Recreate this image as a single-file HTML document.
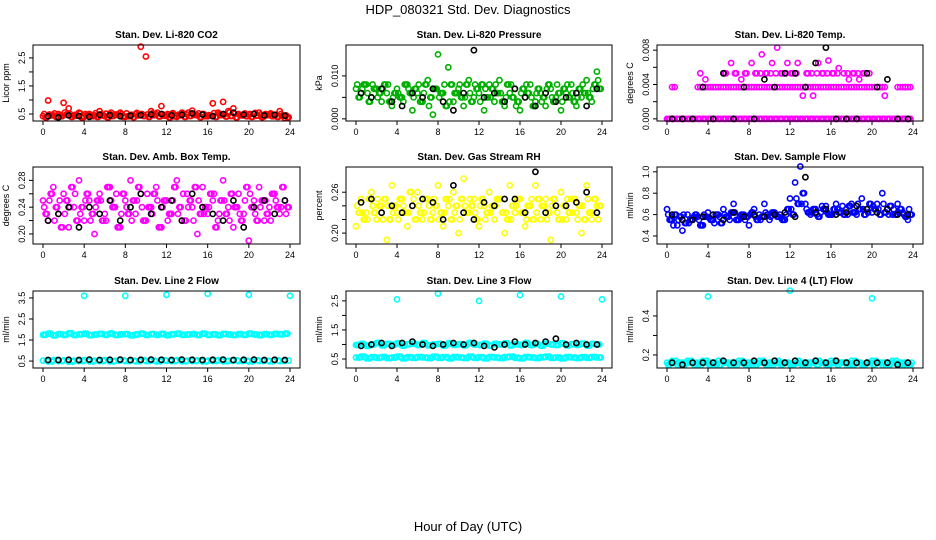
<!DOCTYPE html>
<html><head><meta charset="utf-8">
<style>
html,body{margin:0;padding:0;background:#fff;}
svg{display:block;font-family:"Liberation Sans",sans-serif;}
</style></head>
<body>
<svg id="chart" width="936" height="540" viewBox="0 0 936 540">
<text x="468" y="14" text-anchor="middle" font-size="13">HDP_080321  Std. Dev. Diagnostics</text>
<text x="468" y="531" text-anchor="middle" font-size="13">Hour of Day (UTC)</text>
</svg>
<script>
const hours=[0,0.5,1,1.5,2,2.5,3,3.5,4,4.5,5,5.5,6,6.5,7,7.5,8,8.5,9,9.5,10,10.5,11,11.5,12,12.5,13,13.5,14,14.5,15,15.5,16,16.5,17,17.5,18,18.5,19,19.5,20,20.5,21,21.5,22,22.5,23,23.5];
const hoursOff=[0.25,0.75,1.25,1.75,2.25,2.75,3.25,3.75,4.25,4.75,5.25,5.75,6.25,6.75,7.25,7.75,8.25,8.75,9.25,9.75,10.25,10.75,11.25,11.75,12.25,12.75,13.25,13.75,14.25,14.75,15.25,15.75,16.25,16.75,17.25,17.75,18.25,18.75,19.25,19.75,20.25,20.75,21.25,21.75,22.25,22.75,23.25,23.75];
const hoursA=[0.12,0.62,1.12,1.62,2.12,2.62,3.12,3.62,4.12,4.62,5.12,5.62,6.12,6.62,7.12,7.62,8.12,8.62,9.12,9.62,10.12,10.62,11.12,11.62,12.12,12.62,13.12,13.62,14.12,14.62,15.12,15.62,16.12,16.62,17.12,17.62,18.12,18.62,19.12,19.62,20.12,20.62,21.12,21.62,22.12,22.62,23.12,23.62];
const hoursB=[0.37,0.87,1.37,1.87,2.37,2.87,3.37,3.87,4.37,4.87,5.37,5.87,6.37,6.87,7.37,7.87,8.37,8.87,9.37,9.87,10.37,10.87,11.37,11.87,12.37,12.87,13.37,13.87,14.37,14.87,15.37,15.87,16.37,16.87,17.37,17.87,18.37,18.87,19.37,19.87,20.37,20.87,21.37,21.87,22.37,22.87,23.37,23.87];
const hoursBlack=[0.5,1.5,2.5,3.5,4.5,5.5,6.5,7.5,8.5,9.5,10.5,11.5,12.5,13.5,14.5,15.5,16.5,17.5,18.5,19.5,20.5,21.5,22.5,23.5];
const hoursOut=[4,8,12,16,20,24];
const xTicks=[0,4,8,12,16,20,24];

const co2A=[0.42,0.98,0.45,0.5,0.9,0.7,0.45,0.55,0.4,0.5,0.45,0.6,0.42,0.5,0.48,0.55,0.4,0.45,0.5,2.9,2.55,0.6,0.5,0.78,0.45,0.5,0.4,0.55,0.48,0.62,0.45,0.5,0.42,0.88,0.55,0.93,0.6,0.7,0.5,0.45,0.48,0.5,0.55,0.42,0.5,0.45,0.6,0.35];
const co2B=[0.38,0.45,0.4,0.42,0.48,0.4,0.44,0.38,0.46,0.42,0.4,0.45,0.38,0.43,0.47,0.4,0.42,0.39,0.45,0.43,0.4,0.46,0.41,0.44,0.38,0.42,0.45,0.4,0.43,0.47,0.39,0.42,0.44,0.4,0.46,0.41,0.43,0.38,0.45,0.42,0.4,0.44,0.39,0.46,0.42,0.4,0.43,0.38];
const co2C=[0.5,0.48,0.52,0.45,0.55,0.5,0.47,0.52,0.5,0.46,0.53,0.49,0.51,0.55,0.48,0.5,0.52,0.47,0.54,0.5,0.48,0.52,0.55,0.49,0.5,0.53,0.47,0.51,0.55,0.48,0.52,0.5,0.46,0.53,0.5,0.48,0.55,0.51,0.47,0.52,0.5,0.54,0.48,0.5,0.52,0.47,0.5,0.45];
const co2K=[0.42,0.38,0.45,0.43,0.4,0.47,0.45,0.42,0.44,0.46,0.48,0.5,0.45,0.47,0.52,0.48,0.42,0.5,0.55,0.48,0.5,0.45,0.47,0.44];

const presA=[0.007,0.006,0.008,0.005,0.007,0.004,0.006,0.003,0.007,0.005,0.008,0.002,0.006,0.004,0.009,0.001,0.015,0.006,0.012,0.004,0.007,0.003,0.009,0.005,0.006,0.002,0.008,0.004,0.009,0.003,0.006,0.007,0.002,0.005,0.008,0.004,0.006,0.003,0.007,0.005,0.002,0.006,0.008,0.003,0.005,0.009,0.004,0.011];
const presB=[0.005,0.008,0.004,0.007,0.006,0.008,0.004,0.006,0.005,0.008,0.006,0.007,0.004,0.008,0.005,0.007,0.006,0.003,0.008,0.006,0.005,0.008,0.004,0.007,0.008,0.005,0.007,0.006,0.004,0.008,0.005,0.004,0.007,0.006,0.003,0.007,0.005,0.008,0.004,0.006,0.007,0.005,0.004,0.007,0.006,0.005,0.008,0.007];
const presC=[0.008,0.007,0.006,0.008,0.005,0.007,0.008,0.005,0.006,0.004,0.007,0.005,0.008,0.006,0.003,0.007,0.005,0.008,0.004,0.006,0.008,0.005,0.006,0.008,0.004,0.007,0.005,0.008,0.006,0.005,0.008,0.003,0.006,0.008,0.005,0.006,0.004,0.007,0.005,0.008,0.004,0.008,0.006,0.005,0.008,0.006,0.007,0.009];
const presK=[0.006,0.005,0.007,0.004,0.003,0.006,0.005,0.007,0.004,0.002,0.006,0.016,0.005,0.006,0.004,0.007,0.005,0.003,0.006,0.004,0.005,0.006,0.003,0.007];

const tempA=[0,0,0,0,0,0,0,0,0,0,0,0,0,0,0,0,0,0,0,0,0,0,0,0,0,0,0,0,0,0,0,0,0,0,0,0,0,0,0,0,0,0,0,0,0,0,0,0];
const tempB=[null,0.0037,null,null,null,null,0.0037,0.0037,0.0037,0.0037,0.0037,0.0037,0.0037,0.0037,0.0037,0.0037,0.0037,0.0037,0.0037,0.0037,0.0037,0.0037,0.0037,0.0037,0.0037,0.0037,0.0037,0.0037,0.0037,0.0037,0.0037,0.0037,0.0037,0.0037,0.0037,0.0037,0.0037,0.0037,0.0037,0.0037,0.0037,0.0037,0.0037,null,null,0.0037,0.0037,0.0037];
const tempC=[null,null,null,null,null,null,0.0053,0.0046,null,null,null,0.0053,0.0065,0.0053,0.0046,0.0053,0.0065,0.0053,0.0075,0.0053,0.0065,0.0083,0.0053,0.0065,0.0053,0.0065,0.0027,0.0053,0.0027,0.0065,0.0053,0.0068,0.0053,0.0059,0.0053,0.0046,0.0053,0.0046,0.0053,0.0053,null,0.0037,0.0027,null,null,null,0.0037,null];
const tempD=[null,null,null,null,null,null,null,null,null,null,null,0.0053,null,0.0053,null,0.0053,null,0.0053,0.0053,0.0053,0.0053,0.0053,0.0053,0.0053,0.0053,0.0053,null,0.0053,0.0053,0.0053,0.0053,0.0053,0.0053,0.0053,null,0.0053,0.0053,0.0053,0.0053,null,null,null,null,null,null,null,null,null];
const tempK=[0,0,0,0.0037,0,0.0053,0,0.0037,0,0.0046,0.0037,0.0053,0.0053,0.0037,0.0065,0.0083,0,0,0,0.0053,0.0037,0.0046,0,0];

const ambA=[0.25,0.22,0.27,0.23,0.26,0.21,0.24,0.28,0.22,0.25,0.2,0.26,0.23,0.27,0.24,0.21,0.25,0.28,0.23,0.26,0.22,0.24,0.27,0.21,0.25,0.23,0.28,0.22,0.26,0.24,0.2,0.27,0.23,0.25,0.22,0.28,0.24,0.21,0.26,0.23,0.19,0.25,0.27,0.22,0.24,0.26,0.23,0.25];
const ambB=[0.23,0.26,0.24,0.21,0.25,0.27,0.22,0.24,0.26,0.23,0.25,0.22,0.27,0.24,0.21,0.26,0.23,0.25,0.27,0.22,0.24,0.26,0.21,0.25,0.23,0.27,0.24,0.22,0.25,0.27,0.23,0.24,0.26,0.21,0.25,0.23,0.26,0.24,0.22,0.27,0.24,0.22,0.25,0.23,0.26,0.24,0.27,0.24];
const ambC=[0.24,0.25,0.22,0.25,0.23,0.24,0.26,0.23,0.25,0.22,0.24,0.25,0.22,0.25,0.26,0.23,0.24,0.22,0.25,0.24,0.26,0.23,0.25,0.24,0.22,0.25,0.23,0.26,0.24,0.22,0.25,0.23,0.24,0.26,0.23,0.25,0.22,0.24,0.23,0.25,0.26,0.23,0.24,0.25,0.22,0.25,0.24,0.23];
const ambK=[0.22,0.23,0.24,0.21,0.24,0.23,0.25,0.22,0.24,0.26,0.23,0.24,0.25,0.22,0.26,0.24,0.23,0.22,0.25,0.21,0.24,0.25,0.23,0.25];

const rhA=[0.21,0.25,0.23,0.26,0.22,0.24,0.19,0.27,0.23,0.25,0.21,0.24,0.26,0.22,0.25,0.23,0.27,0.21,0.24,0.26,0.2,0.28,0.23,0.25,0.21,0.24,0.26,0.22,0.25,0.2,0.27,0.23,0.25,0.21,0.24,0.27,0.22,0.25,0.19,0.24,0.26,0.22,0.25,0.23,0.2,0.27,0.22,0.24];
const rhB=[0.23,0.22,0.25,0.23,0.24,0.25,0.22,0.24,0.25,0.23,0.26,0.22,0.23,0.25,0.22,0.24,0.23,0.25,0.22,0.24,0.25,0.23,0.24,0.22,0.25,0.23,0.24,0.25,0.23,0.22,0.24,0.25,0.23,0.24,0.22,0.25,0.24,0.23,0.25,0.22,0.24,0.23,0.25,0.24,0.22,0.23,0.25,0.24];
const rhC=[0.24,0.23,0.22,0.24,0.25,0.22,0.24,0.23,0.22,0.24,0.23,0.25,0.24,0.23,0.24,0.25,0.22,0.23,0.25,0.23,0.22,0.24,0.25,0.23,0.24,0.22,0.23,0.24,0.25,0.23,0.22,0.24,0.23,0.22,0.25,0.23,0.24,0.22,0.24,0.23,0.22,0.25,0.23,0.22,0.24,0.25,0.23,0.22];
const rhK=[0.245,0.25,0.23,0.24,0.23,0.24,0.25,0.245,0.22,0.27,0.23,0.22,0.245,0.24,0.25,0.25,0.23,0.29,0.23,0.24,0.24,0.245,0.26,0.23];

const flowA=[0.65,0.55,0.5,0.45,0.6,0.55,0.58,0.5,0.62,0.55,0.6,0.65,0.58,0.7,0.55,0.6,0.5,0.65,0.6,0.7,0.55,0.62,0.6,0.55,0.75,0.9,1.05,0.7,0.6,0.65,0.62,0.68,0.6,0.7,0.62,0.65,0.7,0.6,0.75,0.65,0.62,0.7,0.8,0.65,0.6,0.7,0.62,0.55];
const flowB=[0.55,0.6,0.58,0.52,0.55,0.6,0.5,0.58,0.55,0.6,0.52,0.58,0.62,0.55,0.6,0.58,0.62,0.55,0.58,0.6,0.62,0.58,0.55,0.65,0.6,0.7,0.8,0.62,0.65,0.58,0.65,0.6,0.65,0.62,0.6,0.68,0.62,0.65,0.6,0.7,0.65,0.6,0.62,0.68,0.6,0.65,0.58,0.6];
const flowC=[0.6,0.5,0.55,0.6,0.52,0.58,0.55,0.6,0.57,0.52,0.58,0.6,0.55,0.62,0.58,0.55,0.6,0.58,0.55,0.62,0.58,0.6,0.57,0.6,0.65,0.75,0.7,0.65,0.62,0.6,0.68,0.62,0.6,0.65,0.68,0.6,0.62,0.7,0.65,0.62,0.68,0.65,0.7,0.6,0.65,0.62,0.6,0.65];
const flowK=[0.6,0.55,0.55,0.58,0.6,0.55,0.62,0.58,0.6,0.58,0.6,0.62,0.58,0.95,0.62,0.65,0.6,0.62,0.68,0.65,0.62,0.65,0.6,0.6];

const l2A=[1.75,1.8,1.72,1.78,1.75,1.82,1.74,1.77,1.8,1.73,1.76,1.79,1.75,1.81,1.74,1.77,1.78,1.72,1.76,1.8,1.74,1.78,1.75,1.79,1.73,1.77,1.8,1.75,1.76,1.78,1.74,1.8,1.75,1.77,1.73,1.79,1.76,1.74,1.78,1.75,1.8,1.76,1.73,1.78,1.75,1.79,1.77,1.8];
const l2B=[0.52,0.48,0.55,0.5,0.53,0.47,0.52,0.5,0.54,0.49,0.52,0.5,0.55,0.48,0.51,0.53,0.5,0.52,0.49,0.54,0.5,0.52,0.48,0.53,0.51,0.5,0.54,0.49,0.52,0.5,0.53,0.48,0.52,0.5,0.54,0.49,0.51,0.53,0.5,0.52,0.48,0.54,0.5,0.52,0.49,0.53,0.5,0.52];
const l2Out=[3.6,3.6,3.65,3.7,3.65,3.6];
const l2K=[0.55,0.55,0.56,0.55,0.57,0.55,0.56,0.57,0.55,0.56,0.57,0.56,0.55,0.57,0.56,0.55,0.56,0.57,0.55,0.56,0.57,0.55,0.56,0.55];

const l3A=[0.98,1.02,0.95,1.0,1.05,0.97,1.02,0.99,1.04,0.96,1.01,1.03,0.98,1.05,0.97,1.0,1.02,0.96,1.04,0.99,1.01,0.97,1.05,1.0,0.98,1.03,0.96,1.02,1.0,1.04,0.97,1.01,0.99,1.05,0.98,1.02,0.96,1.03,1.0,0.98,1.04,0.97,1.01,0.99,1.03,0.96,1.02,1.0];
const l3B=[0.55,0.58,0.52,0.56,0.54,0.57,0.53,0.55,0.58,0.52,0.56,0.54,0.57,0.55,0.53,0.58,0.54,0.56,0.52,0.57,0.55,0.53,0.58,0.54,0.56,0.52,0.57,0.55,0.53,0.56,0.58,0.54,0.52,0.57,0.55,0.53,0.56,0.58,0.54,0.55,0.52,0.57,0.55,0.53,0.56,0.54,0.57,0.55];
const l3Out=[2.55,2.75,2.5,2.7,2.65,2.55];
const l3K=[0.95,1.0,1.05,0.95,1.05,1.1,1.0,0.95,1.0,1.05,1.0,1.05,0.95,0.9,1.0,1.1,1.0,1.05,1.1,1.2,1.0,1.05,1.0,1.0];

const l4A=[0.16,0.17,0.15,0.16,0.17,0.16,0.15,0.17,0.16,0.15,0.17,0.16,0.16,0.15,0.17,0.16,0.15,0.16,0.17,0.16,0.15,0.17,0.16,0.16,0.15,0.17,0.16,0.15,0.16,0.17,0.16,0.15,0.17,0.16,0.16,0.15,0.17,0.16,0.15,0.16,0.17,0.16,0.15,0.16,0.17,0.16,0.15,0.16];
const l4B=[0.15,0.16,0.16,0.15,0.16,0.15,0.16,0.16,0.15,0.16,0.15,0.16,0.15,0.16,0.16,0.15,0.16,0.15,0.16,0.15,0.16,0.16,0.15,0.16,0.15,0.16,0.15,0.16,0.16,0.15,0.16,0.15,0.16,0.15,0.16,0.16,0.15,0.16,0.15,0.16,0.15,0.16,0.16,0.15,0.16,0.15,0.16,0.15];
const l4Out=[0.5,null,0.53,null,0.49,null];
const l4K=[0.16,0.15,0.16,0.16,0.16,0.17,0.16,0.16,0.17,0.16,0.17,0.16,0.17,0.16,0.17,0.16,0.17,0.16,0.16,0.16,0.16,0.16,0.15,0.16];

const NS="http://www.w3.org/2000/svg";
const svg=document.getElementById('chart');
function mk(tag,attrs,parent){const e=document.createElementNS(NS,tag);for(const k in attrs)e.setAttribute(k,attrs[k]);(parent||svg).appendChild(e);return e;}

const cols=[{l:33,r:300},{l:346,r:612},{l:657,r:923}];
const rows=[{t:45,b:121},{t:167,b:244},{t:291,b:368}];

const panels=[
 {name:'co2',title:'Stan. Dev. Li-820 CO2',ylab:'Licor ppm',ymin:0.25,ymax:2.96,ticks:[0.5,1,1.5,2,2.5],labels:['0.5','','1.5','','2.5'],
  series:[[hours,co2A,'#ff0000'],[hoursOff,co2B,'#ff0000'],[hoursA,co2C,'#ff0000'],[hoursB,co2B,'#ff0000'],[hoursBlack,co2K,'#000']]},
 {name:'pressure',title:'Stan. Dev. Li-820 Pressure',ylab:'kPa',ymin:-0.0005,ymax:0.0172,ticks:[0,0.005,0.01],labels:['0.000','','0.010'],
  series:[[hours,presA,'#00b000'],[hoursOff,presB,'#00b000'],[hoursA,presC,'#00b000'],[hoursB,presB,'#00b000'],[hoursBlack,presK,'#000']]},
 {name:'temp',title:'Stan. Dev. Li-820 Temp.',ylab:'degrees C',ymin:-0.00025,ymax:0.0086,ticks:[0,0.002,0.004,0.006,0.008],labels:['0.000','','0.004','','0.008'],
  series:[[hours,tempA,'#ff00ff'],[hoursOff,tempA,'#ff00ff'],[hoursA,tempA,'#ff00ff'],[hoursOff,tempB,'#ff00ff'],[hours,tempB,'#ff00ff'],[hoursOff,tempC,'#ff00ff'],[hoursA,tempD,'#ff00ff'],[hoursBlack,tempK,'#000']]},
 {name:'amb-box',title:'Stan. Dev. Amb. Box Temp.',ylab:'degrees C',ymin:0.185,ymax:0.30,ticks:[0.2,0.22,0.24,0.26,0.28],labels:['0.20','','0.24','','0.28'],
  series:[[hours,ambA,'#ff00ff'],[hoursOff,ambB,'#ff00ff'],[hoursA,ambC,'#ff00ff'],[hoursB,ambB,'#ff00ff'],[hoursBlack,ambK,'#000']]},
 {name:'rh',title:'Stan. Dev. Gas Stream RH',ylab:'percent',ymin:0.184,ymax:0.297,ticks:[0.2,0.22,0.24,0.26],labels:['0.20','','','0.26'],
  series:[[hours,rhA,'#ffff00'],[hoursOff,rhB,'#ffff00'],[hoursA,rhC,'#ffff00'],[hoursB,rhB,'#ffff00'],[hoursBlack,rhK,'#000']]},
 {name:'sample-flow',title:'Stan. Dev. Sample Flow',ylab:'ml/min',ymin:0.325,ymax:1.045,ticks:[0.4,0.6,0.8,1.0],labels:['0.4','0.6','0.8','1.0'],
  series:[[hours,flowA,'#0000ff'],[hoursOff,flowB,'#0000ff'],[hoursA,flowC,'#0000ff'],[hoursB,flowB,'#0000ff'],[hoursBlack,flowK,'#000']]},
 {name:'line2',title:'Stan. Dev. Line 2 Flow',ylab:'ml/min',ymin:0.17,ymax:3.83,ticks:[0.5,1.5,2.5,3.5],labels:['0.5','1.5','2.5','3.5'],
  series:[[hours,l2A,'#00ffff'],[hoursOff,l2A,'#00ffff'],[hoursA,l2A,'#00ffff'],[hours,l2B,'#00ffff'],[hoursB,l2B,'#00ffff'],[hoursOut,l2Out,'#00ffff'],[hoursBlack,l2K,'#000']]},
 {name:'line3',title:'Stan. Dev. Line 3 Flow',ylab:'ml/min',ymin:0.19,ymax:2.84,ticks:[0.5,1,1.5,2,2.5],labels:['0.5','','1.5','','2.5'],
  series:[[hours,l3A,'#00ffff'],[hoursOff,l3A,'#00ffff'],[hoursA,l3A,'#00ffff'],[hours,l3B,'#00ffff'],[hoursOff,l3B,'#00ffff'],[hoursB,l3B,'#00ffff'],[hoursOut,l3Out,'#00ffff'],[hoursBlack,l3K,'#000']]},
 {name:'line4',title:'Stan. Dev. Line 4 (LT) Flow',ylab:'ml/min',ymin:0.133,ymax:0.528,ticks:[0.2,0.3,0.4],labels:['0.2','','0.4'],
  series:[[hours,l4A,'#00ffff'],[hoursOff,l4B,'#00ffff'],[hoursA,l4B,'#00ffff'],[hoursB,l4A,'#00ffff'],[hoursOut,l4Out,'#00ffff'],[hoursBlack,l4K,'#000']]}
];

panels.forEach((p,i)=>{
  const c=cols[i%3], r=rows[Math.floor(i/3)];
  const g=mk('g',{});
  
  
  const x0=c.l+10, x1=c.r-10;
  const X=v=>x0+(v/24)*(x1-x0);
  const Y=v=>r.b-(v-p.ymin)/(p.ymax-p.ymin)*(r.b-r.t);
  const t=mk('text',{x:(c.l+c.r)/2,y:r.t-7,'text-anchor':'middle','font-size':'10','font-weight':'bold'},g);
  t.textContent=p.title;
  
  
  const pts=mk('g',{},g);
  
  
  p.series.forEach(s=>{
    const hx=s[0], vals=s[1], col=s[2];
    vals.forEach((v,j)=>{
      if(v===null||v===undefined)return;
      const cy=Y(v);
      if(cy<r.t-2||cy>r.b+2)return;
      const cc=mk('circle',{cx:X(hx[j]).toFixed(1),cy:cy.toFixed(1),r:2.6,fill:'none',stroke:col,'stroke-width':1.6},pts);
      
      
    });
  });
  const box=mk('rect',{x:c.l,y:r.t,width:c.r-c.l,height:r.b-r.t,fill:'none',stroke:'#000','stroke-width':1},g);
  
  
  xTicks.forEach(v=>{
    mk('line',{x1:X(v),x2:X(v),y1:r.b,y2:r.b+4,stroke:'#000'},g);
    const tl=mk('text',{x:X(v),y:r.b+14,'text-anchor':'middle','font-size':'9'},g);
    tl.textContent=v;
    
    
  });
  mk('line',{x1:X(0),x2:X(24),y1:r.b,y2:r.b,stroke:'#000'},g);
  p.ticks.forEach((v,k)=>{
    const y=Y(v);
    mk('line',{x1:c.l-4,x2:c.l,y1:y,y2:y,stroke:'#000'},g);
    if(p.labels[k]){
      const tl=mk('text',{x:c.l-8,y:y,'text-anchor':'middle','font-size':'9',transform:`rotate(-90 ${c.l-8} ${y})`},g);
      tl.textContent=p.labels[k];
      
      
    }
  });
  const ym=(r.t+r.b)/2;
  const yl=mk('text',{x:c.l-24,y:ym,'text-anchor':'middle','font-size':'9',transform:`rotate(-90 ${c.l-24} ${ym})`},g);
  yl.textContent=p.ylab;
  
  
});
</script>
</body></html>
